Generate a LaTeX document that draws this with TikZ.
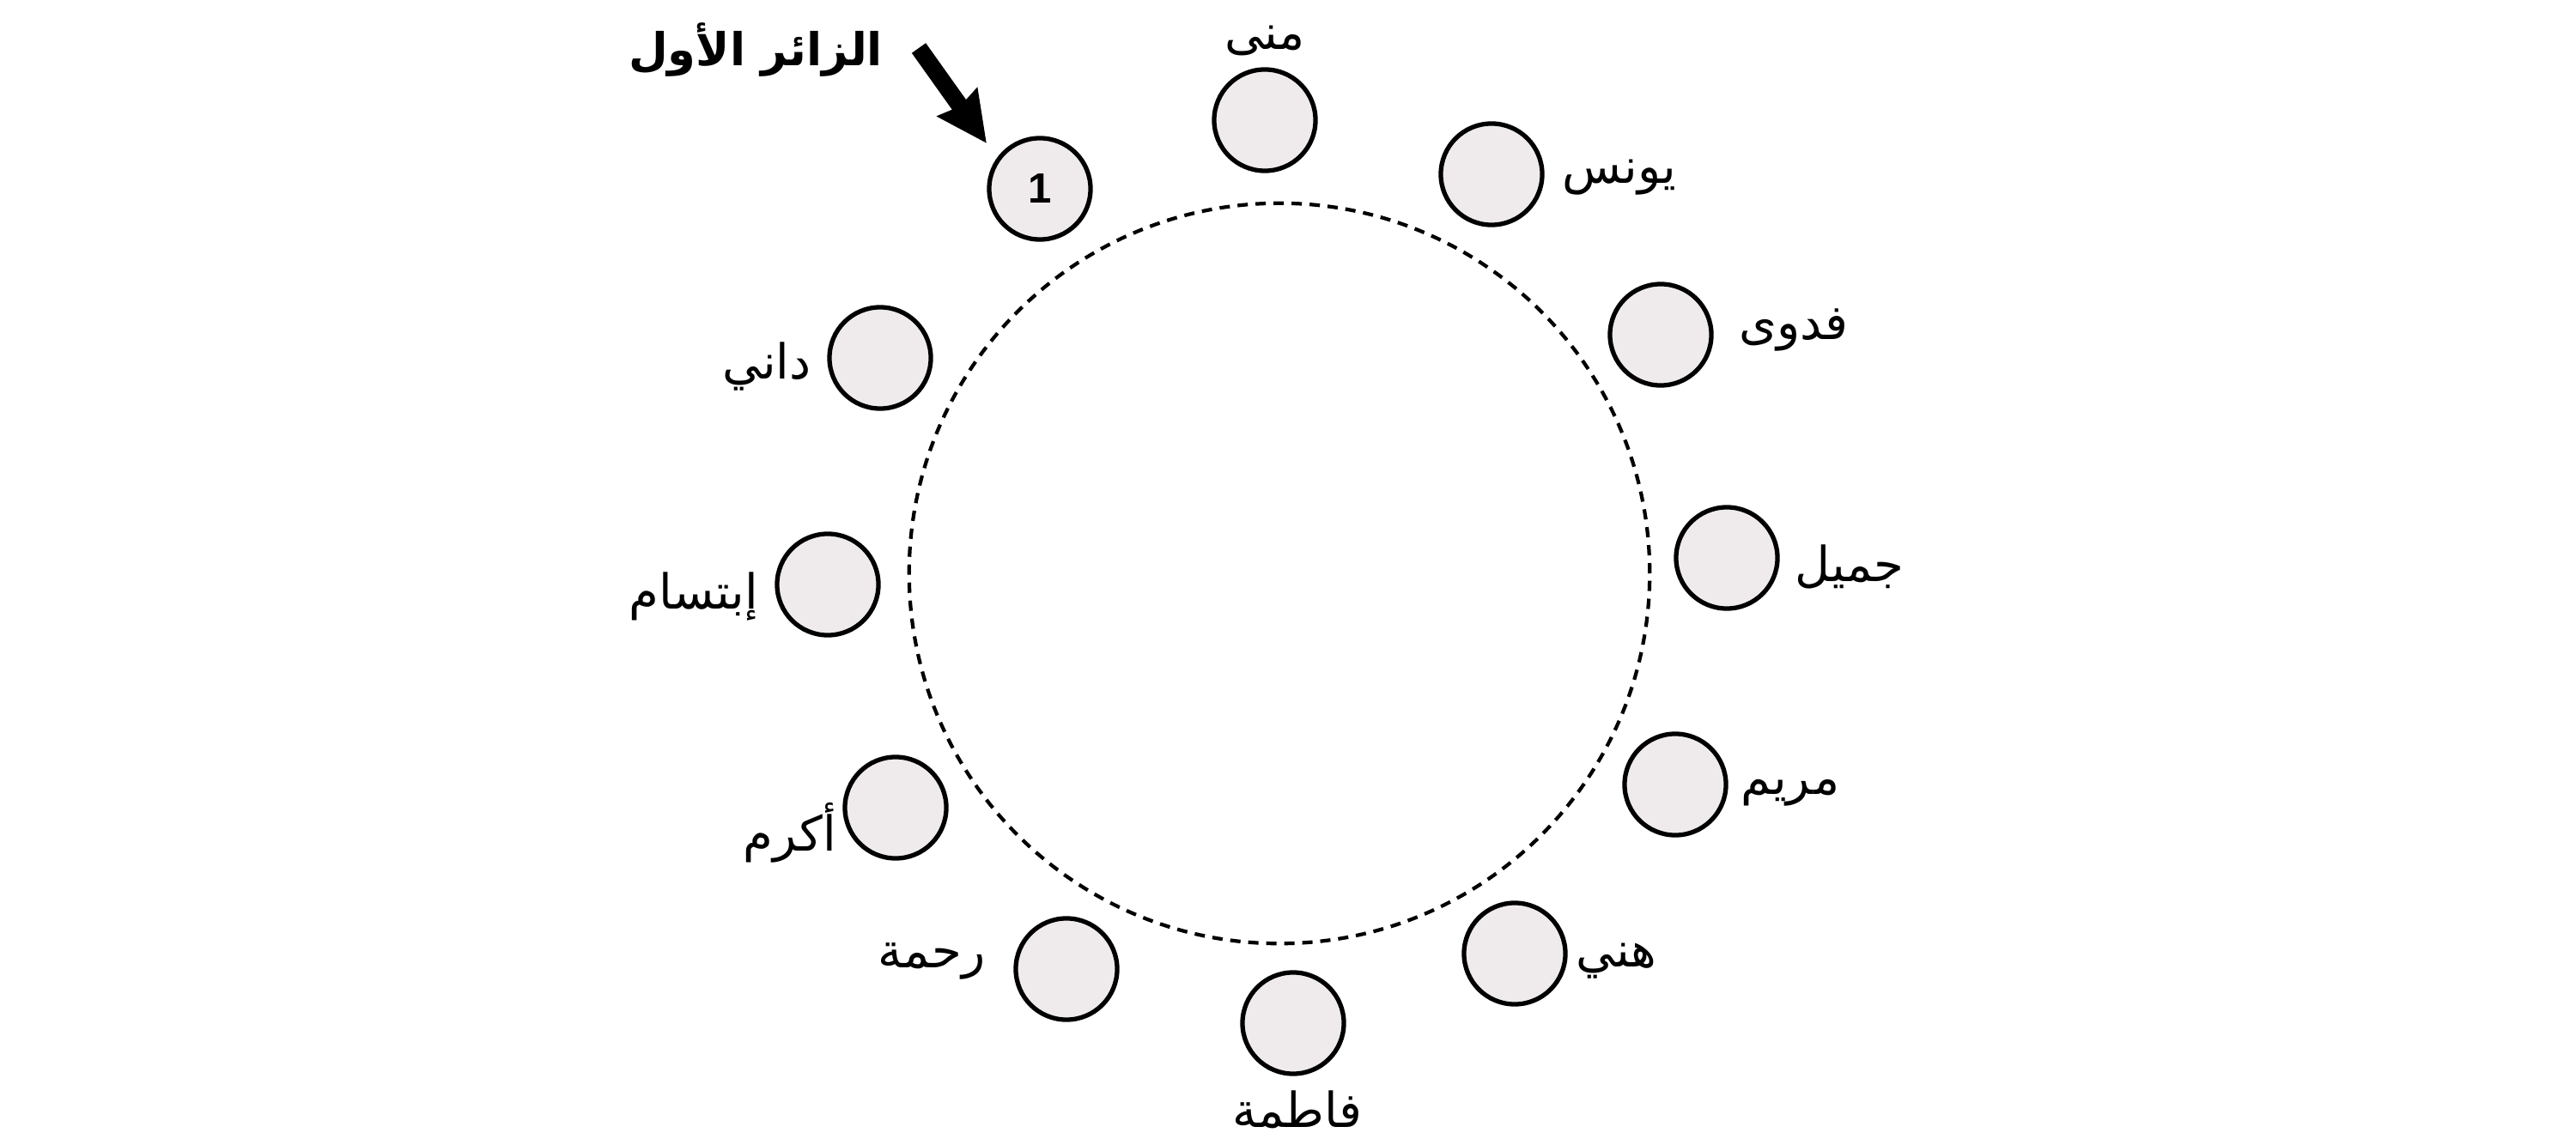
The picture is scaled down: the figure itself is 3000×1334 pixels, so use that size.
\documentclass[tikz,border=0pt]{standalone}
\usepackage{fontspec}
\usetikzlibrary{arrows.meta,positioning}
\TeXXeTstate=1
\newfontfamily\arabicfont[Script=Arabic]{DejaVu Sans}
\newfontfamily\numfont{Liberation Sans}
\definecolor{seatfill}{HTML}{EFEBED}

\begin{document}
\begin{tikzpicture}[x=0.01cm, y=-0.01cm,
    guest/.style={draw, circle, line width=1.5pt, fill=seatfill,
      minimum size=1.18cm, inner sep=0pt,
      font=\numfont\bfseries\fontsize{14}{16}\selectfont},
    guestname/.style={inner sep=0pt, yshift=-0.1cm,
      font=\arabicfont\fontsize{16}{19}\selectfont},
    bigarrow/.style={line width=0.2cm,
      -{Stealth[length=0.58cm, width=0.55cm, inset=0.05cm]}}]
  \useasboundingbox (0,0) rectangle (3000,1334);

  % Round table
  \node[draw, circle, line width=1.2pt, dash pattern=on 0.12cm off 0.09cm,
    minimum size=8.62cm, inner sep=0pt] (table) at (1490,668) {};

  % Guests round the table
  \node[guest] (first)   at (1211,220)  {1};
  \node[guest] (mona)    at (1473,140)  {};
  \node[guest] (yunus)   at (1737,203)  {};
  \node[guest] (fadwa)   at (1934,390)  {};
  \node[guest] (jamil)   at (2011,650)  {};
  \node[guest] (maryam)  at (1951,914)  {};
  \node[guest] (hani)    at (1764,1111) {};
  \node[guest] (fatima)  at (1506,1192) {};
  \node[guest] (rahma)   at (1242,1129) {};
  \node[guest] (akram)   at (1043,941)  {};
  \node[guest] (ibtisam) at (964,681)   {};
  \node[guest] (dani)    at (1025,417)  {};

  % Names
  \node[guestname] (monaname)    at (1473,38)   {\beginR منى\endR};
  \node[guestname] (yunusname)   at (1886,197)  {\beginR يونس\endR};
  \node[guestname] (fadwaname)   at (2089,375)  {\beginR فدوى\endR};
  \node[guestname] (jamilname)   at (2154,650)  {\beginR جميل\endR};
  \node[guestname] (maryamname)  at (2085,914)  {\beginR مريم\endR};
  \node[guestname] (haniname)    at (1882,1110) {\beginR هني\endR};
  \node[guestname] (fatimaname)  at (1511,1283) {\beginR فاطمة\endR};
  \node[guestname] (rahmaname)   at (1085,1110) {\beginR رحمة\endR};
  \node[guestname] (akramname)   at (920,960)   {\beginR أكرم\endR};
  \node[guestname] (ibtisamname) at (808,685)   {\beginR إبتسام\endR};
  \node[guestname] (daniname)    at (893,417)   {\beginR داني\endR};

  % First visitor
  \node[inner sep=0pt, font=\arabicfont\bfseries\fontsize{15}{18}\selectfont]
    (title) at (880,58) {\beginR الزائر الأول\endR};
  \coordinate (arrowtail) at (1070,56);
  \coordinate (arrowtip) at (1149,167);
  \draw[bigarrow] (arrowtail) -- (arrowtip);
\end{tikzpicture}
\end{document}
